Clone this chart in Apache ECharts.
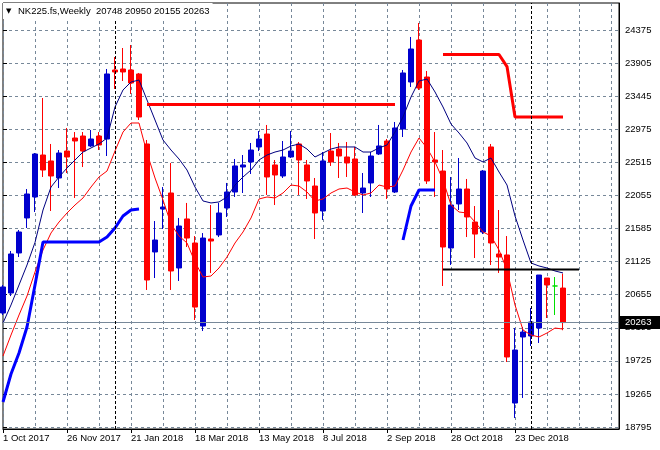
<!DOCTYPE html>
<html><head><meta charset="utf-8">
<script src="https://cdn.jsdelivr.net/npm/echarts@6/dist/echarts.min.js"></script>
<style>html,body{margin:0;padding:0;background:#fff}#c{width:660px;height:450px}</style>
</head><body><div id="c"></div>
<script>
const _ = null;
const categories = ['1 Oct 2017','8 Oct 2017','15 Oct 2017','22 Oct 2017','29 Oct 2017','5 Nov 2017','12 Nov 2017','19 Nov 2017',
'26 Nov 2017','3 Dec 2017','10 Dec 2017','17 Dec 2017','24 Dec 2017','31 Dec 2017','7 Jan 2018','14 Jan 2018',
'21 Jan 2018','28 Jan 2018','4 Feb 2018','11 Feb 2018','18 Feb 2018','25 Feb 2018','4 Mar 2018','11 Mar 2018',
'18 Mar 2018','25 Mar 2018','1 Apr 2018','8 Apr 2018','15 Apr 2018','22 Apr 2018','29 Apr 2018','6 May 2018',
'13 May 2018','20 May 2018','27 May 2018','3 Jun 2018','10 Jun 2018','17 Jun 2018','24 Jun 2018','1 Jul 2018',
'8 Jul 2018','15 Jul 2018','22 Jul 2018','29 Jul 2018','5 Aug 2018','12 Aug 2018','19 Aug 2018','26 Aug 2018',
'2 Sep 2018','9 Sep 2018','16 Sep 2018','23 Sep 2018','30 Sep 2018','7 Oct 2018','14 Oct 2018','21 Oct 2018',
'28 Oct 2018','4 Nov 2018','11 Nov 2018','18 Nov 2018','25 Nov 2018','2 Dec 2018','9 Dec 2018','16 Dec 2018',
'23 Dec 2018','30 Dec 2018','6 Jan 2019','13 Jan 2019','20 Jan 2019','27 Jan 2019','3 Feb 2019','10 Feb 2019',
'17 Feb 2019','24 Feb 2019','3 Mar 2019','10 Mar 2019','17 Mar 2019','24 Mar 2019'];

const open  = [20397,20678,21241,21733,22028,22618,22534,22295,22674,22857,22885,22745,22885,22843,23813,23827,
23813,23757,22773,21255,21859,22084,21030,21719,21381,20214,21437,21494,21873,22098,22449,22520,
22731,22913,22478,22323,22590,22773,22478,22182,21831,22674,22702,22590,22562,22084,22225,22632,
22815,22098,22984,23644,24234,23714,22548,22393,21311,21930,22140,21676,21536,22731,21227,21213,
19132,20060,20074,20186,20889,20777,20748];
const high  = [20791,21269,21564,22140,22646,23419,22773,22688,22998,22941,22941,22970,22941,23827,23995,24122,
24164,23771,22829,21690,22168,22506,21733,21944,21479,21521,21915,21944,22225,22562,22618,22787,
22955,23040,22548,22815,22955,22801,22548,22295,22660,22927,22787,22801,22731,22365,22660,23040,
22843,23082,23813,24277,24473,23799,22941,22688,22309,22576,22281,21901,22407,22773,21845,21479,
20186,20200,20468,20931,20889,20903,20950];
const low   = [20369,20636,21184,21592,21817,22309,21831,22154,22365,22014,22449,22731,22688,22604,23546,23658,
23476,23110,20721,20889,21578,20721,20847,21325,20299,20144,20960,21465,21747,22028,22084,22351,
22674,22056,21915,22295,22576,22056,22000,21437,21705,22464,22295,22309,22042,21803,22028,22618,
22000,22084,22871,23574,23532,22211,22028,20777,21072,21845,21465,21170,21507,21072,20960,19709,
18921,19203,19934,19976,20327,20369,20155];
const close = [20763,21227,21536,22070,22632,22407,22323,22646,22590,22815,22674,22843,22759,23757,23785,23785,
23630,23152,20861,21423,21887,20988,21620,21451,20481,21451,21409,21803,22098,22464,22478,22688,
22843,22309,22337,22590,22674,22548,22253,21803,22534,22520,22604,22506,22056,22154,22604,22745,
22140,22998,23771,24108,23560,22253,22520,21325,21915,22140,21747,21507,22393,21381,21184,19779,
19877,20130,20271,20931,20791,20777,20263];

// navy channel line (upper) and red channel line (lower)
const upperLine = [20257,20510,20791,21072,21389,21845,22168,22309,22435,22548,22660,22717,22773,22857,23293,23532,
23644,23672,23391,23110,22829,22688,22562,22407,22168,21972,21944,21958,22028,22196,22309,22407,
22548,22618,22660,22688,22745,22773,22702,22590,22646,22702,22731,22731,22731,22660,22660,22717,
22759,22941,23152,23433,23658,23686,23504,23293,23054,22927,22787,22576,22520,22576,22379,22196,
21761,21423,21100,21058,21030,20988,20960];
const lowerLine = [19793,20088,20369,20636,20974,21283,21522,21676,21803,21915,22014,22168,22309,22393,22674,22941,
23068,23068,22646,22295,21986,21648,21480,21381,21114,20903,20917,21030,21184,21381,21536,21733,
22000,22028,22014,22084,22196,22182,22098,21972,22000,22084,22140,22154,22098,22056,22084,22196,
22168,22182,22407,22660,22857,22717,22520,22267,21915,21817,21803,21676,21536,21480,21283,21002,
20510,20158,20088,20060,20116,20186,20172];
// thick blue support line
const supportLine = [19146,19540,19835,20200,20791,21395,21395,21395,21395,21395,21395,21395,21395,21465,21592,21761,
21845,21859,_,_,_,_,_,_,_,_,_,_,_,_,_,_,
_,_,_,_,_,_,_,_,_,_,_,_,_,_,_,_,
_,_,21423,21901,22126,22126,22126,_,_,_,_,_,_,_,_,_,
_,_,_,_,_,_,_];
// thick red resistance line
const resistLine = [_,_,_,_,_,_,_,_,_,_,_,_,_,_,_,_,
_,_,23328,23328,23328,23328,23328,23328,23328,23328,23328,23328,23328,23328,23328,23328,
23328,23328,23328,23328,23328,23328,23328,23328,23328,23328,23328,23328,23328,23328,23328,23328,
23328,23328,_,_,_,_,_,24031,24031,24031,24031,24031,24031,24031,24031,23861,
23152,23152,23152,23152,23152,23152,23152];
// black horizontal level
const levelLine = [_,_,_,_,_,_,_,_,_,_,_,_,_,_,_,_,
_,_,_,_,_,_,_,_,_,_,_,_,_,_,_,_,
_,_,_,_,_,_,_,_,_,_,_,_,_,_,_,_,
_,_,_,_,_,_,_,21008,21008,21008,21008,21008,21008,21008,21008,21008,
21008,21008,21008,21008,21008,21008,21008,21008,21008];

const tickLabels = ['18795','19265','19725','20195','20655','21125','21585','22055','22515','22975','23445','23905','24375'];
const yearSeparators = ['7 Jan 2018','6 Jan 2019'];
const symbolName = 'NK225.fs,Weekly';

const TICK_MIN = 18795, TICK_MAX = 24375, TICK_STEP = 465;
const Y_MIN = 18766.9, Y_MAX = 24754.5;
const FONT = 'Liberation Sans';
const FS = 9.5;

const n = close.length;
const lastClose = close[n - 1];
const candleData = open.map((o, i) => [o, close[i], low[i], high[i]]);
const titleText = '{t|▼}' + symbolName + '  ' + [open[n-1], high[n-1], low[n-1], close[n-1]].join(' ');
const showLabel = (idx) => idx % 8 === 0 && idx <= 64;

const chart = echarts.init(document.getElementById('c'), null, {renderer: 'canvas'});
chart.setOption({
  animation: false,
  backgroundColor: '#fff',
  textStyle: {fontFamily: FONT},
  title: {
    text: titleText, left: 3, top: 3, padding: [3, 3, 3, 3], backgroundColor: '#fff',
    textStyle: {fontSize: FS, fontWeight: 'normal', color: '#000', fontFamily: FONT,
      rich: {t: {fontFamily: 'DejaVu Sans', fontSize: 7, color: '#000', width: 12, align: 'left'}}}
  },
  grid: [
    {left: 3, right: 41, top: 3, bottom: 21, show: true, borderColor: '#000', borderWidth: 1},
    {left: 3, right: 41, top: 30, bottom: 23}
  ],
  xAxis: [
    {type: 'category', gridIndex: 0, data: categories, boundaryGap: false,
     axisLine: {show: true, lineStyle: {color: '#000'}},
     axisTick: {show: true, interval: showLabel, length: 4, lineStyle: {color: '#000'}},
     axisLabel: {interval: showLabel, align: 'left', color: '#000', fontSize: FS, margin: 4, fontFamily: FONT},
     splitLine: {show: true, interval: 3, lineStyle: {color: '#778899', type: [3, 3], width: 1}}},
    {type: 'value', gridIndex: 1, show: false, min: 0, max: 1}
  ],
  yAxis: [
    {type: 'value', gridIndex: 0, position: 'right', min: Y_MIN, max: Y_MAX,
     axisLine: {show: true, lineStyle: {color: '#000'}}, axisTick: {show: false},
     axisLabel: {show: false}, splitLine: {show: false}},
    {type: 'value', gridIndex: 1, position: 'right', min: TICK_MIN, max: TICK_MAX, interval: TICK_STEP,
     axisLine: {show: false}, axisTick: {show: true, length: 4, lineStyle: {color: '#000'}},
     axisLabel: {color: '#000', fontSize: FS, margin: 6, fontFamily: FONT,
       formatter: (v) => tickLabels[Math.round((v - TICK_MIN) / TICK_STEP)]},
     splitLine: {show: true, lineStyle: {color: '#778899', type: [3, 3], width: 1}}}
  ],
  series: [
    {type: 'candlestick', xAxisIndex: 0, yAxisIndex: 0, data: candleData, barWidth: 5,
     itemStyle: {color: '#0000cd', color0: '#ff0000', borderColor: '#0000cd', borderColor0: '#ff0000',
       borderColorDoji: '#00e000', borderWidth: 1},
     markLine: {silent: true, symbol: 'none', animation: false,
       data: [
         {yAxis: lastClose, lineStyle: {color: '#778899', type: 'solid', width: 1},
          label: {show: true, position: 'end', formatter: String(lastClose), color: '#fff', backgroundColor: '#000',
            padding: [2, 12, 1, 5], fontSize: FS, fontFamily: FONT, distance: 1}},
         {xAxis: yearSeparators[0], lineStyle: {color: '#000', type: [3, 2], width: 1}, label: {show: false}},
         {xAxis: yearSeparators[1], lineStyle: {color: '#000', type: [3, 2], width: 1}, label: {show: false}}
       ]}},
    {type: 'line', data: upperLine, symbol: 'none', lineStyle: {color: '#000080', width: 1}},
    {type: 'line', data: lowerLine, symbol: 'none', lineStyle: {color: '#ff0000', width: 1}},
    {type: 'line', data: supportLine, symbol: 'none', lineStyle: {color: '#0000ff', width: 3}},
    {type: 'line', data: resistLine, symbol: 'none', lineStyle: {color: '#ff0000', width: 3}},
    {type: 'line', data: levelLine, symbol: 'none', lineStyle: {color: '#000', width: 2}}
  ]
});
</script></body></html>
